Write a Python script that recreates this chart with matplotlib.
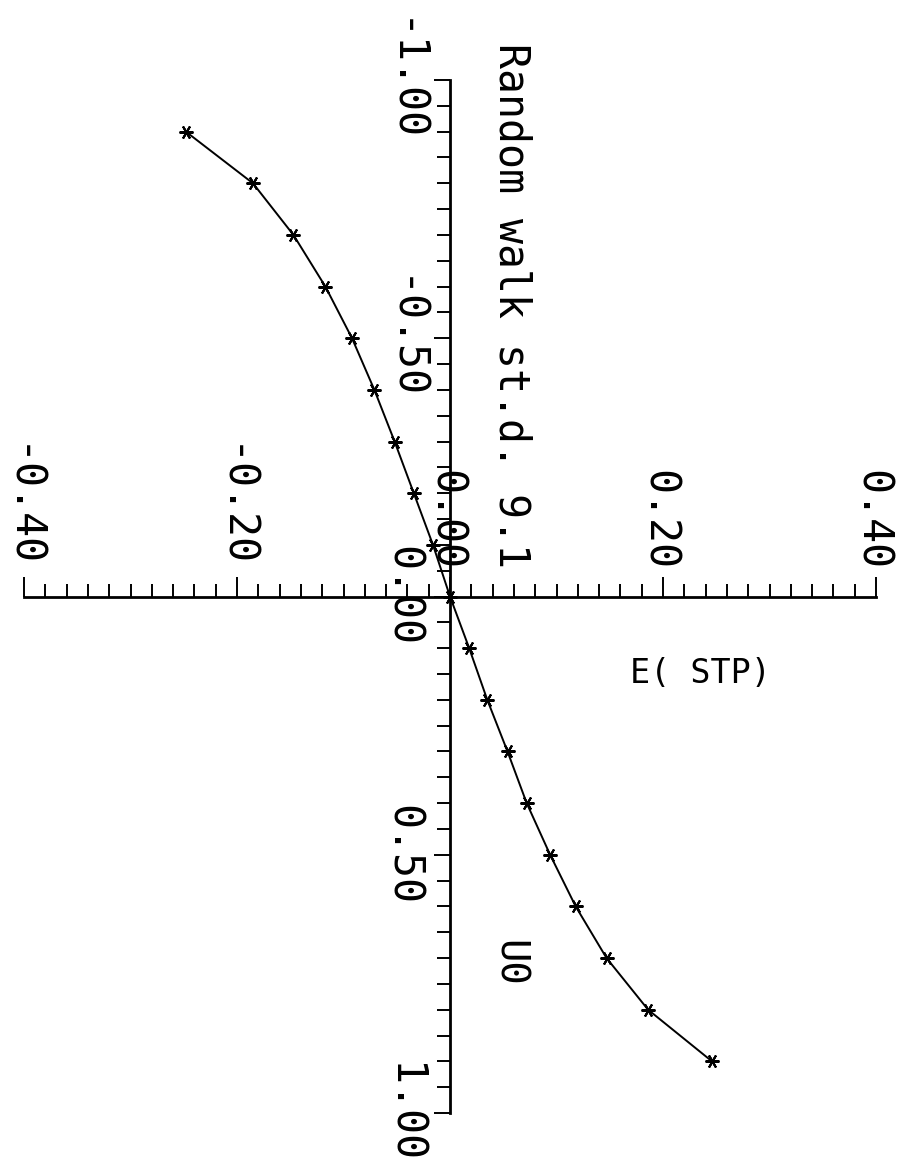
import matplotlib
matplotlib.use("Agg")
import matplotlib.pyplot as plt
from matplotlib.ticker import MultipleLocator, NullFormatter
import numpy as np

# Expected STP versus initial value U0 (random walk, st.d. 9.1)
u0 = [-0.9, -0.8, -0.7, -0.6, -0.5, -0.4, -0.3, -0.2, -0.1, 0.0,
      0.1, 0.2, 0.3, 0.4, 0.5, 0.6, 0.7, 0.8, 0.9]
e_stp = [-0.248, -0.185, -0.147, -0.117, -0.092, -0.071, -0.052, -0.034, -0.016, 0.0,
         0.018, 0.035, 0.054, 0.072, 0.094, 0.118, 0.147, 0.186, 0.246]

e_ticks = [-0.40, -0.20, 0.00, 0.20, 0.40]
e_tick_labels = ["-0.40", "-0.20", "0.00", "0.20", "0.40"]
u_ticks = [-1.00, -0.50, 0.00, 0.50, 1.00]
u_tick_labels = ["-1.00", "-0.50", "0.00", "0.50", "1.00"]

title_text = "Random walk st.d. 9.1"
e_label = "E( STP)"
u_label = "U0"

W, H = 897, 1165
plt.rcParams['font.family'] = ['DejaVu Sans Mono', 'DejaVu Sans']

fig = plt.figure(figsize=(W / 100, H / 100), dpi=100)
ax = fig.add_axes([0, 0, 1, 1])
ax.set_facecolor("white")

# Axis ranges: E(STP) across the page, U0 running down the page
ax.set_xlim(-450 / 1065, 447 / 1065)
ax.set_ylim((H - 596.5) / 516.5, -596.5 / 516.5)

# Axes drawn through the origin
for side in ("top", "right"):
    ax.spines[side].set_visible(False)
ax.spines["bottom"].set_position(("data", 0))
ax.spines["left"].set_position(("data", 0))
ax.spines["bottom"].set_bounds(-0.4, 0.4)
ax.spines["left"].set_bounds(-1.0, 1.0)
ax.spines["bottom"].set_linewidth(2.0)
ax.spines["left"].set_linewidth(2.0)

ax.xaxis.set_major_locator(MultipleLocator(0.2))
ax.yaxis.set_major_locator(MultipleLocator(0.5))
ax.xaxis.set_major_formatter(NullFormatter())
ax.yaxis.set_major_formatter(NullFormatter())
ax.tick_params(axis="x", which="major", direction="in", length=14.5, width=1.4, color="black")
ax.tick_params(axis="x", which="minor", direction="in", length=9.4, width=1.4, color="black")
ax.tick_params(axis="y", which="major", direction="out", length=11.5, width=1.4, color="black")
ax.tick_params(axis="y", which="minor", direction="out", length=9.4, width=1.4, color="black")
ax.set_xticks([t for t in np.arange(-0.40, 0.4001, 0.02)], minor=True)
ax.set_yticks([t for t in np.arange(-1.0, 1.0001, 0.05)], minor=True)

# Curve with asterisk markers
ax.plot(e_stp, u0, color="black", linewidth=1.4,
        marker=(6, 2, 90), markersize=10, markeredgewidth=1.5,
        markeredgecolor="black", zorder=3)

# Tick labels, rotated to read down the page
for t, lab in zip(e_ticks, e_tick_labels):
    ax.annotate(lab, xy=(t, 0), xytext=(-4, 27), textcoords="offset pixels",
                rotation=-90, ha="center", va="bottom", fontsize=30, color="black")
for t, lab in zip(u_ticks, u_tick_labels):
    ax.annotate(lab, xy=(0, t), xytext=(-68, 0), textcoords="offset pixels",
                rotation=-90, ha="left", va="center", fontsize=30, color="black")

# Titles and axis names
fig.text(490 / W, 1 - 568 / H, title_text, rotation=-90, ha="left", va="bottom",
         fontsize=30, color="black")
fig.text(630 / W, 1 - 683 / H, e_label, ha="left", va="baseline",
         fontsize=24, color="black")
fig.text(490 / W, 1 - 940 / H, u_label, rotation=-90, ha="left", va="top",
         fontsize=28, color="black")

fig.savefig("out.png", dpi=100, facecolor="white")
